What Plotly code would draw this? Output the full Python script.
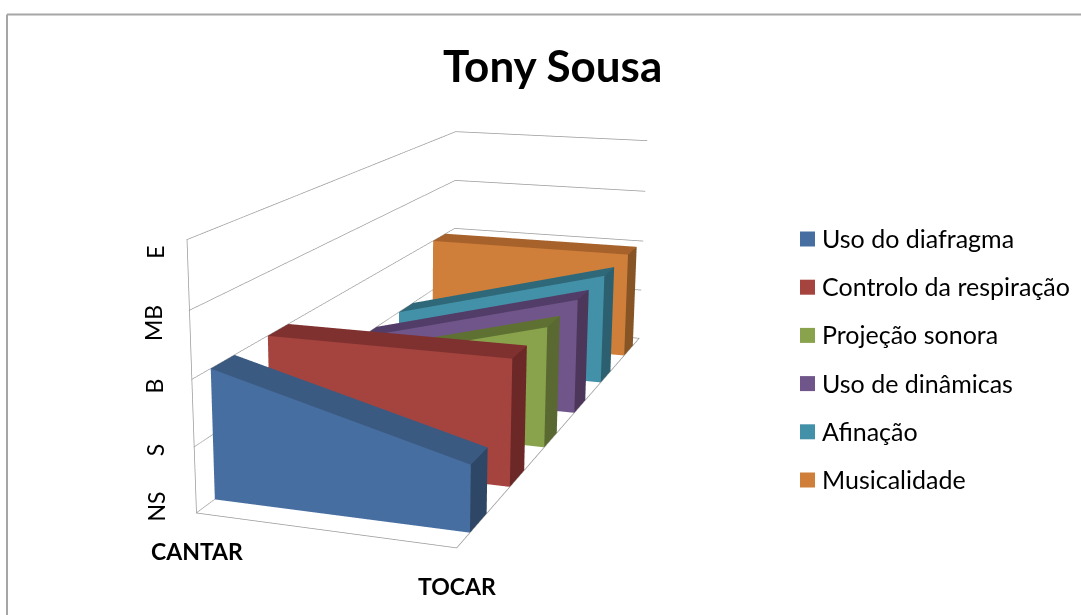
import plotly.graph_objects as go

categories = ["CANTAR", "TOCAR"]
level_labels = ["NS", "S", "B", "MB", "E"]
series_names = ["Uso do diafragma", "Controlo da respiração", "Projeção sonora",
                "Uso de dinâmicas", "Afinação", "Musicalidade"]
uso_diafragma = [2, 1]
controlo_respiracao = [2, 2]
projecao_sonora = [1, 2]
uso_dinamicas = [1, 2]
afinacao = [1, 2]
musicalidade = [2, 2]
series_values = [uso_diafragma, controlo_respiracao, projecao_sonora, uso_dinamicas, afinacao, musicalidade]
front_colors = ["#476EA0", "#A5433F", "#88A34B", "#70558A", "#4391A8", "#D07F3B"]
top_colors = ["#3A5A82", "#7F312F", "#5F7033", "#523D68", "#2F6878", "#A7622B"]
side_colors = ["#2F4766", "#6B2826", "#596931", "#4C3659", "#2C6070", "#875525"]

W, H = 1081, 615
# The reference has a long-lens view; plotly's field of view is fixed, so the figure is taller than the window
eye = (2.1099, -6.5805, 1.6254)
center = (-0.1060, -0.4496, -0.1707)
aspect = (1, 3.0488, 1.0172)
cx, cy, Hf = 397.7451, 360.0018, 1363
off = Hf / 2 - cy
dw = min(cx, W - cx)
dom_x = [(cx - dw) / W, (cx + dw) / W]
GRID = "#999999"


def py(y):
    return 1 - (y + off) / Hf


fig = go.Figure()
for i, (name, vals) in enumerate(zip(series_names, series_values)):
    y0, y1 = i + 0.3, i + 0.7
    xs = [0, 1, 1, 0, 0, 1, 1, 0]
    ys = [y0, y0, y1, y1, y0, y0, y1, y1]
    zs = [0, 0, 0, 0, vals[0], vals[1], vals[1], vals[0]]
    faces = [(0, 1, 5, front_colors[i]), (0, 5, 4, front_colors[i]),
             (4, 5, 6, top_colors[i]), (4, 6, 7, top_colors[i]),
             (1, 2, 6, side_colors[i]), (1, 6, 5, side_colors[i])]
    fig.add_trace(go.Mesh3d(x=xs, y=ys, z=zs, i=[f[0] for f in faces], j=[f[1] for f in faces], k=[f[2] for f in faces],
                            facecolor=[f[3] for f in faces], flatshading=True, name=name, hoverinfo="name",
                            lighting=dict(ambient=1, diffuse=0, specular=0, fresnel=0, roughness=1)))
fig.add_trace(go.Scatter3d(x=[0, 0, 1, 1], y=[0, 0, 0, 6], z=[4, 0, 0, 0], mode="lines",
                           line=dict(color=GRID, width=1.5), hoverinfo="skip", showlegend=False))
ax_common = dict(showbackground=False, showticklabels=False, title="", showspikes=False, zeroline=False,
                 showline=False, ticks="")
scene_ann = []
for v, (lab, xs_, sh) in enumerate(zip(level_labels, [-41, -39, -37, -36, -32], [6, -3, -6, -13, -13])):
    scene_ann.append(dict(x=0, y=0, z=v, text=lab, textangle=-90, showarrow=False, xshift=xs_, yshift=sh,
                          font=dict(family="Lato", size=23, color="black")))
for v, cat in enumerate(categories):
    scene_ann.append(dict(x=v, y=0, z=0, text=f"<b>{cat}</b>", showarrow=False, yshift=-38,
                          font=dict(family="Lato", size=23, color="black")))
ann = [dict(x=552 / W, y=py(65), xref="paper", yref="paper", yanchor="middle", text="<b>Tony Sousa</b>",
            showarrow=False, font=dict(family="Lato", size=44, color="black"))]
shapes = [dict(type="line", xref="paper", yref="paper", x0=7 / W, x1=7 / W, y0=0, y1=py(14),
               line=dict(color="#a6a6a6", width=2)),
          dict(type="line", xref="paper", yref="paper", x0=7 / W, x1=1, y0=py(14), y1=py(14),
               line=dict(color="#a6a6a6", width=2))]
for i, name in enumerate(series_names):
    yc = 238.5 + i * 48.2
    shapes.append(dict(type="rect", xref="paper", yref="paper", x0=800 / W, x1=815 / W, y0=py(yc - 7.5), y1=py(yc + 7.5),
                       fillcolor=front_colors[i], line=dict(width=0)))
    ann.append(dict(x=820 / W, y=py(yc - 1), xref="paper", yref="paper", xanchor="left", yanchor="middle", text=name,
                    showarrow=False, font=dict(family="Lato", size=25, color="black")))
fig.update_layout(width=W, height=Hf, margin=dict(l=0, r=0, t=0, b=0), paper_bgcolor="white", showlegend=False,
                  annotations=ann, shapes=shapes,
                  scene=dict(domain=dict(x=dom_x, y=[0, 1]), aspectmode="manual",
                             aspectratio=dict(x=aspect[0], y=aspect[1], z=aspect[2]),
                             camera=dict(eye=dict(x=eye[0], y=eye[1], z=eye[2]),
                                         center=dict(x=center[0], y=center[1], z=center[2]),
                                         up=dict(x=0, y=0, z=1), projection=dict(type="perspective")),
                             xaxis=dict(range=[-0.001, 1.001], showgrid=False, **ax_common),
                             yaxis=dict(range=[-0.005, 6.005], showgrid=False, **ax_common),
                             zaxis=dict(range=[-0.005, 4.005], tickvals=list(range(5)), showgrid=True,
                                        gridcolor=GRID, gridwidth=1.5, **ax_common),
                             annotations=scene_ann))
fig.write_html("out.html", config=dict(displayModeBar=False),
               post_script=f"document.body.style.margin='0';document.body.style.marginTop='{-off}px';"
                           "document.documentElement.style.overflow='hidden';")
